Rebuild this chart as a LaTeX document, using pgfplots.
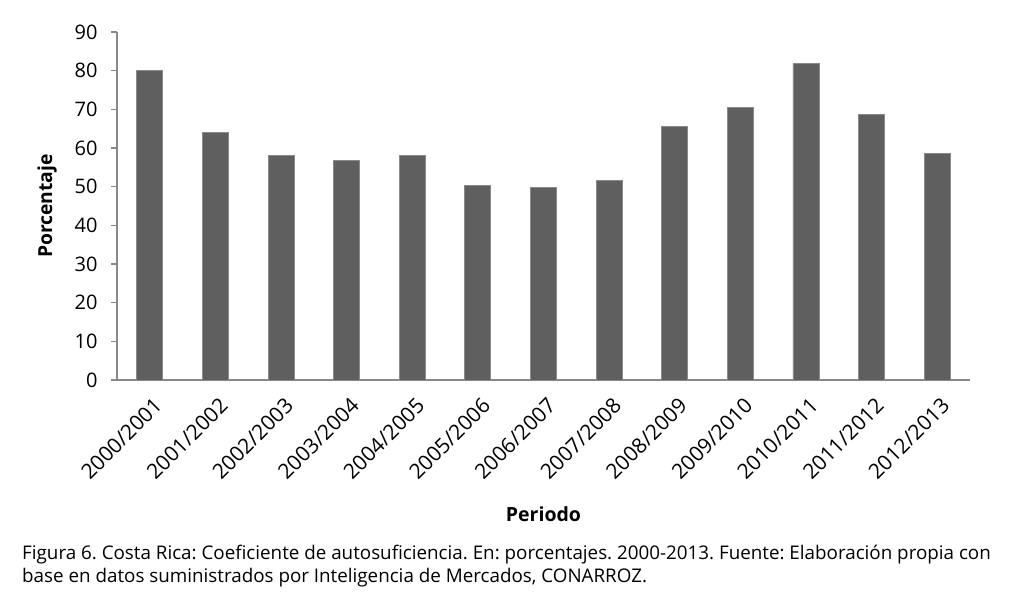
\documentclass[border=0pt]{standalone}
\usepackage{fontspec}
\setmainfont{Open Sans}
\usepackage{pgfplots}
\pgfplotsset{compat=1.18}
\definecolor{barfill}{HTML}{5F5F5F}
\definecolor{baredge}{HTML}{8A8A8A}
\definecolor{axisgray}{HTML}{888888}
\begin{document}
\frenchspacing
\begin{tikzpicture}
\useasboundingbox (0,0) rectangle (1019bp,594bp);
\begin{axis}[
  at={(117bp,214bp)}, anchor=south west,
  scale only axis, width=853bp, height=348bp,
  xmin=-0.5, xmax=12.5, ymin=0, ymax=90,
  axis x line*=bottom, axis y line*=left,
  axis line style={axisgray, line width=1.2bp},
  ybar, bar width=26bp,
  xtick={0,...,12},
  xticklabels={2000/2001,2001/2002,2002/2003,2003/2004,2004/2005,2005/2006,2006/2007,2007/2008,2008/2009,2009/2010,2010/2011,2011/2012,2012/2013},
  x tick style={draw=none},
  minor xtick={-0.5,0.5,...,12.5},
  minor x tick style={axisgray, line width=1.2bp},
  minor tick length=7bp,
  ytick={0,10,...,90},
  y tick style={axisgray, line width=1.2bp},
  major tick length=6bp,
  tick align=outside,
  /pgf/number format/assume math mode=true,
  yticklabel style={font=\fontsize{20bp}{22bp}\selectfont, xshift=-10bp},
  xticklabel style={font=\fontsize{21bp}{23bp}\selectfont, rotate=45, anchor=north east, xshift=-2bp, yshift=-6bp},
  ylabel={\bfseries Porcentaje},
  xlabel={\bfseries Periodo},
  every axis y label/.style={at={(axis description cs:0,0.5)}, xshift=-70bp, rotate=90, anchor=center, font=\fontsize{19.3bp}{21bp}\selectfont},
  every axis x label/.style={at={(axis description cs:0.5,0)}, yshift=-134bp, anchor=center, font=\fontsize{19.5bp}{21bp}\selectfont},
]
\addplot[fill=barfill, draw=baredge, line width=0.8bp] coordinates {
(0,80.1) (1,64.1) (2,58.0) (3,56.8) (4,58.0) (5,50.3) (6,49.8) (7,51.5) (8,65.5) (9,70.5) (10,81.8) (11,68.7) (12,58.6)
};
\end{axis}
\node[anchor=base west, inner sep=0pt, font=\fontsize{18.8bp}{23bp}\selectfont] at (22bp,594bp-559bp) {Figura 6. Costa Rica: Coeficiente de autosuficiencia. En: porcentajes. 2000-2013. Fuente: Elaboración propia con};
\node[anchor=base west, inner sep=0pt, font=\fontsize{18.8bp}{23bp}\selectfont] at (22bp,594bp-582bp) {base en datos suministrados por Inteligencia de Mercados, CONARROZ.};
\end{tikzpicture}
\end{document}
